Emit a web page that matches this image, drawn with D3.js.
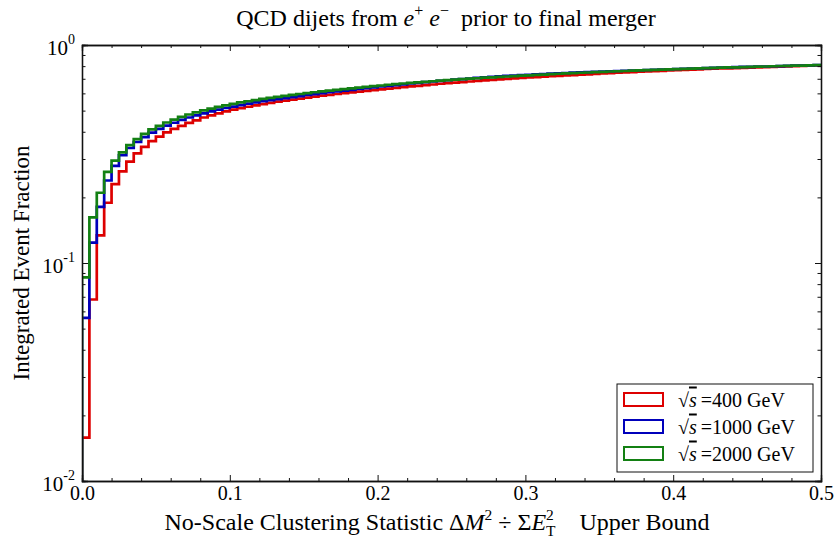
<!DOCTYPE html>
<html>
<head>
<meta charset="utf-8">
<script src="https://cdn.jsdelivr.net/npm/d3@7"></script>
<style>
  html, body { margin: 0; padding: 0; background: #fff; }
  svg { display: block; }
  text { font-family: "Liberation Serif", "Times New Roman", serif; fill: #000; }
</style>
</head>
<body>
<svg id="chart" width="837" height="541"></svg>
<script>
// ---- data ----
const binWidth = 0.005;
const seriesNames = ["400 GeV", "1000 GeV", "2000 GeV"];
const red400 = [0.0158,0.068,0.134,0.189,0.230,0.263,0.292,0.318,0.341,0.362,
  0.380,0.397,0.412,0.426,0.439,0.451,0.465,0.476,0.486,0.496,
  0.505,0.513,0.521,0.529,0.536,0.543,0.550,0.556,0.562,0.568,
  0.574,0.580,0.586,0.591,0.596,0.601,0.606,0.611,0.616,0.621,
  0.626,0.631,0.636,0.641,0.646,0.650,0.655,0.659,0.664,0.668,
  0.672,0.676,0.680,0.684,0.688,0.692,0.696,0.699,0.703,0.706,
  0.710,0.713,0.716,0.719,0.722,0.725,0.728,0.731,0.734,0.737,
  0.740,0.743,0.746,0.749,0.751,0.754,0.756,0.759,0.761,0.764,
  0.766,0.769,0.771,0.773,0.776,0.778,0.780,0.782,0.784,0.786,
  0.788,0.790,0.792,0.794,0.796,0.798,0.800,0.802,0.804,0.806];
const blue1000 = [0.056,0.124,0.181,0.239,0.279,0.312,0.337,0.359,0.378,0.396,
  0.412,0.427,0.440,0.453,0.465,0.476,0.486,0.496,0.505,0.514,
  0.522,0.530,0.538,0.545,0.552,0.559,0.565,0.571,0.577,0.583,
  0.590,0.595,0.601,0.607,0.612,0.618,0.623,0.629,0.634,0.639,
  0.645,0.650,0.655,0.660,0.666,0.670,0.675,0.680,0.685,0.689,
  0.694,0.698,0.702,0.706,0.710,0.714,0.718,0.721,0.724,0.727,
  0.730,0.733,0.736,0.739,0.742,0.744,0.747,0.749,0.751,0.754,
  0.756,0.758,0.760,0.762,0.764,0.766,0.768,0.770,0.772,0.774,
  0.776,0.778,0.780,0.782,0.784,0.785,0.787,0.789,0.791,0.793,
  0.794,0.796,0.797,0.799,0.800,0.802,0.804,0.805,0.807,0.808];
const green2000 = [0.086,0.162,0.210,0.262,0.295,0.322,0.347,0.370,0.391,0.410,
  0.426,0.441,0.455,0.468,0.480,0.491,0.501,0.511,0.520,0.529,
  0.537,0.545,0.552,0.559,0.566,0.572,0.578,0.584,0.590,0.596,
  0.602,0.607,0.613,0.618,0.623,0.628,0.633,0.638,0.643,0.648,
  0.652,0.657,0.661,0.666,0.670,0.674,0.678,0.682,0.686,0.690,
  0.694,0.697,0.701,0.704,0.708,0.711,0.714,0.717,0.720,0.723,
  0.726,0.729,0.732,0.735,0.738,0.741,0.743,0.746,0.748,0.751,
  0.753,0.756,0.758,0.760,0.763,0.765,0.767,0.769,0.771,0.773,
  0.775,0.777,0.779,0.781,0.783,0.785,0.787,0.789,0.790,0.792,
  0.794,0.796,0.797,0.799,0.801,0.802,0.804,0.805,0.807,0.808];
const xMajorTicks = [0.0, 0.1, 0.2, 0.3, 0.4, 0.5];
const xMinorTicks = [0.02,0.04,0.06,0.08,0.12,0.14,0.16,0.18,0.22,0.24,0.26,0.28,0.32,0.34,0.36,0.38,0.42,0.44,0.46,0.48];
const yMajorTicks = [0.01, 0.1, 1];
const yExponents = ["-2", "-1", "0"];
const yMinorTicks = [0.02,0.03,0.04,0.05,0.06,0.07,0.08,0.09,0.2,0.3,0.4,0.5,0.6,0.7,0.8,0.9];
const colors = ["#dd0000", "#0000bb", "#138013"];

// ---- layout ----
const W = 837, H = 541;
const m = {left: 82, right: 16, top: 45, bottom: 60};
const svg = d3.select("#chart");
const x = d3.scaleLinear().domain([0, 0.5]).range([m.left, W - m.right]);
const y = d3.scaleLog().domain([0.01, 1]).range([H - m.bottom, m.top]);

svg.append("defs").append("clipPath").attr("id", "clip")
  .append("rect").attr("x", m.left).attr("y", m.top)
  .attr("width", W - m.left - m.right).attr("height", H - m.top - m.bottom);

// ---- series ----
const allSeries = [red400, blue1000, green2000];
const line = d3.line().x(d => x(d[0])).y(d => y(d[1])).curve(d3.curveStepAfter);
allSeries.forEach((vals, k) => {
  const pts = [[0, 0.01]];
  vals.forEach((v, i) => pts.push([i * binWidth, v]));
  pts.push([vals.length * binWidth, vals[vals.length - 1]]);
  svg.append("path")
    .attr("clip-path", "url(#clip)")
    .attr("d", line(pts))
    .attr("fill", "none")
    .attr("stroke", colors[k])
    .attr("stroke-width", 2.7)
    .attr("stroke-linejoin", "miter");
});

// ---- axes ----
const fs = 20;
function styleAxis(g) {
  g.select(".domain").attr("stroke", "#111").attr("stroke-width", 1.3);
  g.selectAll(".tick line").attr("stroke", "#111").attr("stroke-width", 1);
}
const bx = svg.append("g").attr("transform", `translate(0,${H - m.bottom})`)
  .call(d3.axisBottom(x).tickValues(xMajorTicks).tickSize(-6).tickPadding(5).tickFormat(d3.format(".1f")));
styleAxis(bx);
bx.selectAll("text").attr("font-size", fs).style("font-family", "Liberation Serif");
svg.append("g").attr("transform", `translate(0,${H - m.bottom})`)
  .call(d3.axisBottom(x).tickValues(xMinorTicks).tickSize(-3).tickFormat("")).call(styleAxis);
svg.append("g").attr("transform", `translate(0,${m.top})`)
  .call(d3.axisTop(x).tickValues(xMajorTicks).tickSize(-6).tickFormat("")).call(styleAxis);
svg.append("g").attr("transform", `translate(0,${m.top})`)
  .call(d3.axisTop(x).tickValues(xMinorTicks).tickSize(-3).tickFormat("")).call(styleAxis);

const ly = svg.append("g").attr("transform", `translate(${m.left},0)`)
  .call(d3.axisLeft(y).tickValues(yMajorTicks).tickSize(-6).tickPadding(7).tickFormat(() => ""));
styleAxis(ly);
ly.selectAll(".tick text").each(function(d, i) {
  const t = d3.select(this).attr("font-size", 21).style("font-family", "Liberation Serif").attr("dy", "0.45em");
  t.append("tspan").text("10");
  t.append("tspan").attr("font-size", 14).attr("dy", "-0.75em").text(yExponents[i]);
});
svg.append("g").attr("transform", `translate(${m.left},0)`)
  .call(d3.axisLeft(y).tickValues(yMinorTicks).tickSize(-3.5).tickFormat("")).call(styleAxis);
svg.append("g").attr("transform", `translate(${W - m.right},0)`)
  .call(d3.axisRight(y).tickValues(yMajorTicks).tickSize(-6).tickFormat("")).call(styleAxis);
svg.append("g").attr("transform", `translate(${W - m.right},0)`)
  .call(d3.axisRight(y).tickValues(yMinorTicks).tickSize(-3.5).tickFormat("")).call(styleAxis);

// ---- title ----
const title = svg.append("text").attr("x", 446).attr("y", 26)
  .attr("text-anchor", "middle").attr("font-size", 24);
title.append("tspan").text("QCD dijets from ");
title.append("tspan").attr("font-style", "italic").text("e");
title.append("tspan").attr("font-size", 16).attr("dy", -10).text("+");
title.append("tspan").attr("dy", 10).text(" ");
title.append("tspan").attr("font-style", "italic").text("e");
title.append("tspan").attr("font-size", 16).attr("dy", -10).text("\u2212");
title.append("tspan").attr("dy", 10).text("\u2002prior to final merger");

// ---- x label ----
const xl = svg.append("text").attr("x", 437).attr("y", 530)
  .attr("text-anchor", "middle").attr("font-size", 24);
xl.append("tspan").text("No-Scale Clustering Statistic \u0394");
xl.append("tspan").attr("font-style", "italic").text("M");
xl.append("tspan").attr("font-size", 15.5).attr("dy", -10).text("2");
xl.append("tspan").attr("dy", 10).text(" \u00f7 \u03a3");
xl.append("tspan").attr("font-style", "italic").text("E");
xl.append("tspan").attr("font-size", 15.5).attr("dy", -10).text("2");
xl.append("tspan").attr("font-size", 15.5).attr("dx", -7.8).attr("dy", 16).text("T");
xl.append("tspan").attr("dy", -6).text("\u2003Upper Bound");

// ---- y label ----
svg.append("text").attr("transform", `translate(29,${(m.top + H - m.bottom) / 2}) rotate(-90)`)
  .attr("text-anchor", "middle").attr("font-size", 23).text("Integrated Event Fraction");

// ---- legend ----
const lg = svg.append("g");
lg.append("rect").attr("x", 617).attr("y", 384).attr("width", 196).attr("height", 88)
  .attr("fill", "#fff").attr("stroke", "#111").attr("stroke-width", 1);
seriesNames.forEach((name, k) => {
  const cy = 399.5 + k * 27;
  lg.append("rect").attr("x", 624).attr("y", cy - 6.5).attr("width", 39).attr("height", 13)
    .attr("fill", "none").attr("stroke", colors[k]).attr("stroke-width", 2);
  const t = lg.append("text").attr("x", 678).attr("y", cy + 7).attr("font-size", fs);
  t.append("tspan").text("\u221a");
  t.append("tspan").attr("font-style", "italic").style("text-decoration", "overline").text("s");
  t.append("tspan").text("\u2009=" + name);
});
</script>
</body>
</html>
